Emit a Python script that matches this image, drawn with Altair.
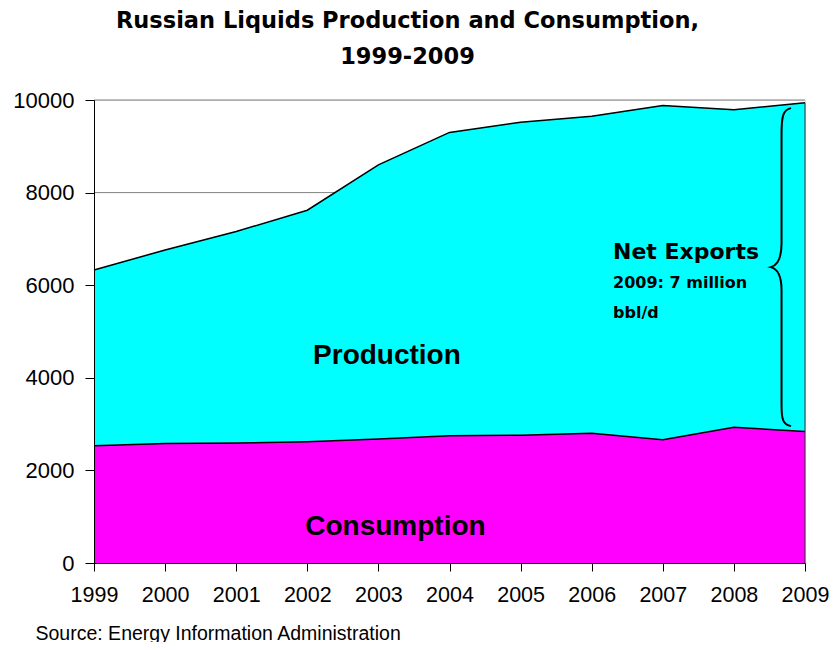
import altair as alt
import pandas as pd

years = [1999, 2000, 2001, 2002, 2003, 2004, 2005, 2006, 2007, 2008, 2009]
production = [6330, 6760, 7160, 7620, 8600, 9300, 9520, 9650, 9880, 9790, 9940]
consumption = [2530, 2580, 2590, 2620, 2680, 2750, 2760, 2800, 2660, 2930, 2840]
y_ticks = [0, 2000, 4000, 6000, 8000, 10000]

title_lines = ["Russian Liquids Production and Consumption,", "1999-2009"]
source_text = "Source: Energy Information Administration"

df = pd.DataFrame({"year": years, "production": production, "consumption": consumption})
grid_df = pd.DataFrame({"v": y_ticks})
edge_df = pd.DataFrame({"x": [years[-1]], "y0": [0], "y1": [production[-1]]})

big_labels = pd.DataFrame({"text": ["Production", "Consumption"],
                           "x": [2003.12, 2003.24], "y": [4470, 780]})
export_labels = pd.DataFrame({"text": ["Net Exports", "2009: 7 million", "bbl/d"],
                              "x": [2006.3, 2006.3, 2006.3],
                              "y": [6720, 6050, 5400],
                              "size": [22, 16, 16]})
brace_df = pd.DataFrame({"x": [2008.67], "y": [(production[-1] + consumption[-1]) / 2]})

xscale = alt.Scale(domain=[1999, 2009], nice=False, zero=False)
yscale = alt.Scale(domain=[0, 10000], nice=False)

LABEL_FONT = "Liberation Sans"

X = alt.X("year:Q", scale=xscale,
          axis=alt.Axis(values=years, format="d", grid=False, zindex=1,
                        title=source_text, titleX=-59, titleY=70,
                        titleAlign="left", titleBaseline="middle", titleAnchor="start",
                        titleFont=LABEL_FONT, titleFontSize=19.5,
                        titleFontWeight="normal", titleColor="black",
                        labelFont=LABEL_FONT, labelFontSize=21.5,
                        labelColor="black", labelPadding=13,
                        tickColor="black", tickSize=8, domainColor="black",
                        labelFlush=False, labelOverlap=False))

grid = alt.Chart(grid_df).mark_rule(color="#808080", strokeWidth=1).encode(
    y=alt.Y("v:Q", scale=yscale,
            axis=alt.Axis(values=y_ticks, format="d", grid=False, zindex=1, title=None,
                          labelFont=LABEL_FONT, labelFontSize=22,
                          labelColor="black", labelPadding=11,
                          tickColor="black", tickSize=9, domainColor="black"))
)

prod_area = alt.Chart(df).mark_area(
    color="#00FFFF", opacity=1, line={"color": "black", "strokeWidth": 1.5}
).encode(x=X, y=alt.Y("production:Q", scale=yscale))

cons_area = alt.Chart(df).mark_area(
    color="#FF00FF", opacity=1, line={"color": "black", "strokeWidth": 1.5}
).encode(x=alt.X("year:Q", scale=xscale), y=alt.Y("consumption:Q", scale=yscale))

edge = alt.Chart(edge_df).mark_rule(color="#333333", strokeWidth=1).encode(
    x=alt.X("x:Q", scale=xscale), y=alt.Y("y0:Q", scale=yscale), y2="y1:Q")

big_text = alt.Chart(big_labels).mark_text(
    font="Liberation Sans", fontSize=28, fontWeight="bold", color="black",
    align="center", baseline="middle"
).encode(x=alt.X("x:Q", scale=xscale), y=alt.Y("y:Q", scale=yscale), text="text:N")

exp_text = alt.Chart(export_labels).mark_text(
    font="DejaVu Sans", fontWeight="bold", color="black", align="left", baseline="middle"
).encode(x=alt.X("x:Q", scale=xscale), y=alt.Y("y:Q", scale=yscale), text="text:N",
         size=alt.Size("size:Q", scale=None, legend=None))

brace_path = ("M 0.06 -1 C 0.01 -0.99 0 -0.95 0 -0.84 L 0 -0.15 "
              "C 0 -0.05 -0.03 -0.01 -0.067 0 C -0.03 0.01 0 0.05 0 0.145 "
              "L 0 0.87 C 0 0.96 0.01 0.99 0.06 1")
brace = alt.Chart(brace_df).mark_point(
    shape=brace_path, size=318 * 318, filled=False, stroke="black", strokeWidth=2, opacity=1
).encode(x=alt.X("x:Q", scale=xscale), y=alt.Y("y:Q", scale=yscale))

chart = alt.layer(grid, prod_area, cons_area, edge, big_text, exp_text, brace).properties(
    width=711, height=463,
    autosize="none",
    padding={"left": 86, "top": 92, "right": 24, "bottom": 79},
    title=alt.TitleParams(text=title_lines, font="DejaVu Sans", fontSize=22.5,
                          fontWeight="bold", color="black", anchor="middle",
                          dx=-42, offset=21, lineHeight=36),
).configure_view(stroke=None).configure(background="white")

chart.save("out.html", embed_options={"renderer": "svg", "actions": False})
